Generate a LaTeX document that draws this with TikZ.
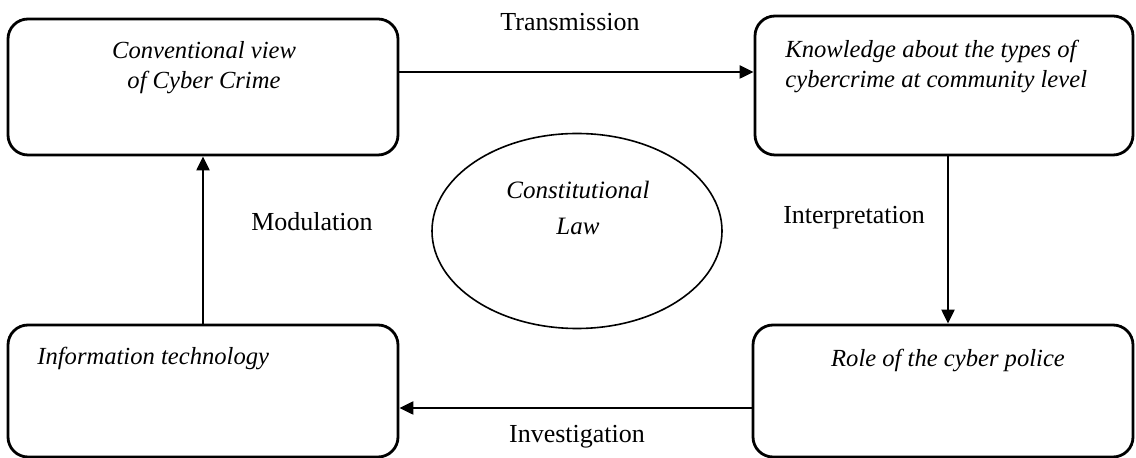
\documentclass[tikz,border=0pt]{standalone}
\usepackage{fontspec}
\setmainfont{Liberation Serif}
\usetikzlibrary{shapes.geometric,arrows.meta}
\begin{document}
\begin{tikzpicture}[x=0.5pt,y=-0.5pt,
  box/.style={draw,rounded corners=10pt,line width=1.4pt,inner sep=0pt},
  conn/.style={line width=1.1pt,-{Triangle[length=7pt,width=6.5pt]}},
  boxtext/.style={font=\fontsize{12.3}{15}\selectfont\itshape,inner sep=0pt},
  lbl/.style={font=\fontsize{13}{15}\selectfont,inner sep=0pt}]
\useasboundingbox (0,0) rectangle (1136,458);
% boxes
\node[box,minimum width=195pt,minimum height=68pt] (tl) at (203,87) {};
\node[box,minimum width=189pt,minimum height=69.5pt] (tr) at (944,85.5) {};
\node[box,minimum width=195pt,minimum height=66pt] (bl) at (203,391) {};
\node[box,minimum width=190pt,minimum height=66pt] (br) at (943,391) {};
% box texts
\node[boxtext,align=center] (tlt) at (204,68) {Conventional view\\of Cyber Crime};
\node[boxtext,align=left,anchor=west] (trt) at (785,67) {Knowledge about the types of\\cybercrime at community level};
\node[boxtext,anchor=west] (blt) at (37,358) {Information technology};
\node[boxtext] (brt) at (948,360) {Role of the cyber police};
% ellipse
\node[draw,ellipse,line width=0.8pt,minimum width=145pt,minimum height=97.5pt,inner sep=0pt] (law) at (577,231) {};
\node[font=\fontsize{12.5}{18}\selectfont\itshape,align=center,inner sep=0pt] (lawt) at (578,208) {Constitutional\\Law};
% connectors
\coordinate (ya) at (0,72);
\coordinate (yb) at (0,408);
\coordinate (xa) at (948,0);
\coordinate (xb) at (203,0);
\draw[conn] (tl.east |- ya) -- (tr.west |- ya);
\draw[conn] (xa |- tr.south) -- (xa |- br.north);
\draw[conn] (br.west |- yb) -- (bl.east |- yb);
\draw[conn] (xb |- bl.north) -- (xb |- tl.south);
% labels
\node[lbl] (ltrans) at (570,22) {Transmission};
\node[lbl] (linterp) at (854,218) {Interpretation};
\node[lbl] (linv) at (577,437) {Investigation};
\node[lbl] (lmod) at (312,222) {Modulation};
\end{tikzpicture}
\end{document}
